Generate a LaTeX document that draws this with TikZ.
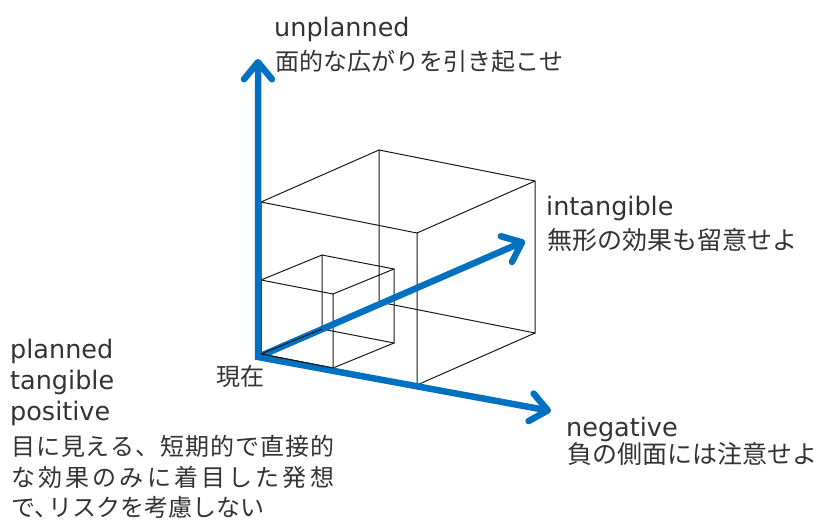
\documentclass[tikz,border=0pt]{standalone}
\usepackage{fontspec}
\setmainfont{DejaVu Sans}
\newfontfamily\jp{Noto Sans CJK JP}
\usetikzlibrary{arrows.meta}
\definecolor{axisblue}{HTML}{0070C0}
\definecolor{txtgray}{HTML}{333333}
\tikzset{mybarb/.tip={Straight Barb[length=17pt,width=28pt,round]}}
\begin{document}
\begin{tikzpicture}[x=1pt,y=-1pt,
  edge/.style={draw=black!90, line width=1pt},
  axisline/.style={draw=axisblue, line width=6.5pt, line join=miter},
  lat/.style={anchor=base west, inner sep=0pt, text=txtgray, font=\fontsize{25.5}{30}\selectfont},
  jpt/.style={anchor=base west, inner sep=0pt, text=txtgray, font=\jp\fontsize{24}{30}\selectfont},
  jpl/.style={jpt, font=\jp\fontsize{25}{30}\selectfont}]
\useasboundingbox (0,0) rectangle (820,523);
% big cube corners
\coordinate (b000) at (261,354);
\coordinate (b100) at (417,385);
\coordinate (b010) at (261,202);
\coordinate (b110) at (417,233);
\coordinate (b001) at (379,302);
\coordinate (b101) at (535,333);
\coordinate (b011) at (379,150);
\coordinate (b111) at (535,181);
% small cube corners
\coordinate (s000) at (261,354);
\coordinate (s100) at (333,368);
\coordinate (s010) at (261,280);
\coordinate (s110) at (333,294);
\coordinate (s001) at (322,329);
\coordinate (s101) at (394,343);
\coordinate (s011) at (322,255);
\coordinate (s111) at (394,269);
% axis points
\coordinate (O) at (258,357);
\coordinate (up) at (258,59);
\coordinate (neg) at (551,411);
\coordinate (intg) at (525,241);
% big cube
\draw[edge] (b000) -- (b100) -- (b110) -- (b010) -- cycle;
\draw[edge] (b001) -- (b101) -- (b111) -- (b011) -- cycle;
\draw[edge] (b000) -- (b001) (b100) -- (b101) (b110) -- (b111) (b010) -- (b011);
% small cube
\draw[edge] (s000) -- (s100) -- (s110) -- (s010) -- cycle;
\draw[edge] (s001) -- (s101) -- (s111) -- (s011) -- cycle;
\draw[edge] (s000) -- (s001) (s100) -- (s101) (s110) -- (s111) (s010) -- (s011);
% axes
\draw[axisline, mybarb-mybarb] (up) -- (O) -- (neg);
\draw[axisline, -mybarb] (O) -- (intg);
% small cube edges lying on the axes
\draw[edge] (s000) -- (s100) (s000) -- (s001);
% labels
\node[lat] (unpl) at (274,36) {unplanned};
\node[jpt] (unplj) at (275,70) {面的な広がりを引き起こせ};
\node[lat] (intg1) at (546,215) {intangible};
\node[jpl] (intg2) at (547,249) {無形の効果も留意せよ};
\node[lat] (neg1) at (566,436) {negative};
\node[jpl] (neg2) at (567,463) {負の側面には注意せよ};
\node[jpt] (now) at (216,385) {現在};
\node[lat] (pl1) at (10,358) {planned};
\node[lat] (pl2) at (10,389) {tangible};
\node[lat] (pl3) at (10,420) {positive};
\node[jpt] (pl4) at (11,455) {\makebox[323pt][s]{目\hfil に\hfil 見\hfil え\hfil る\hfil 、\hfil 短\hfil 期\hfil 的\hfil で\hfil 直\hfil 接\hfil 的}};
\node[jpt] (pl5) at (11,486) {\makebox[323pt][s]{な\hfil 効\hfil 果\hfil の\hfil み\hfil に\hfil 着\hfil 目\hfil し\hfil た\hfil 発\hfil 想}};
\node[jpt] (pl6) at (11,516) {で、\kern-10pt リスクを考慮しない};
\end{tikzpicture}
\end{document}
